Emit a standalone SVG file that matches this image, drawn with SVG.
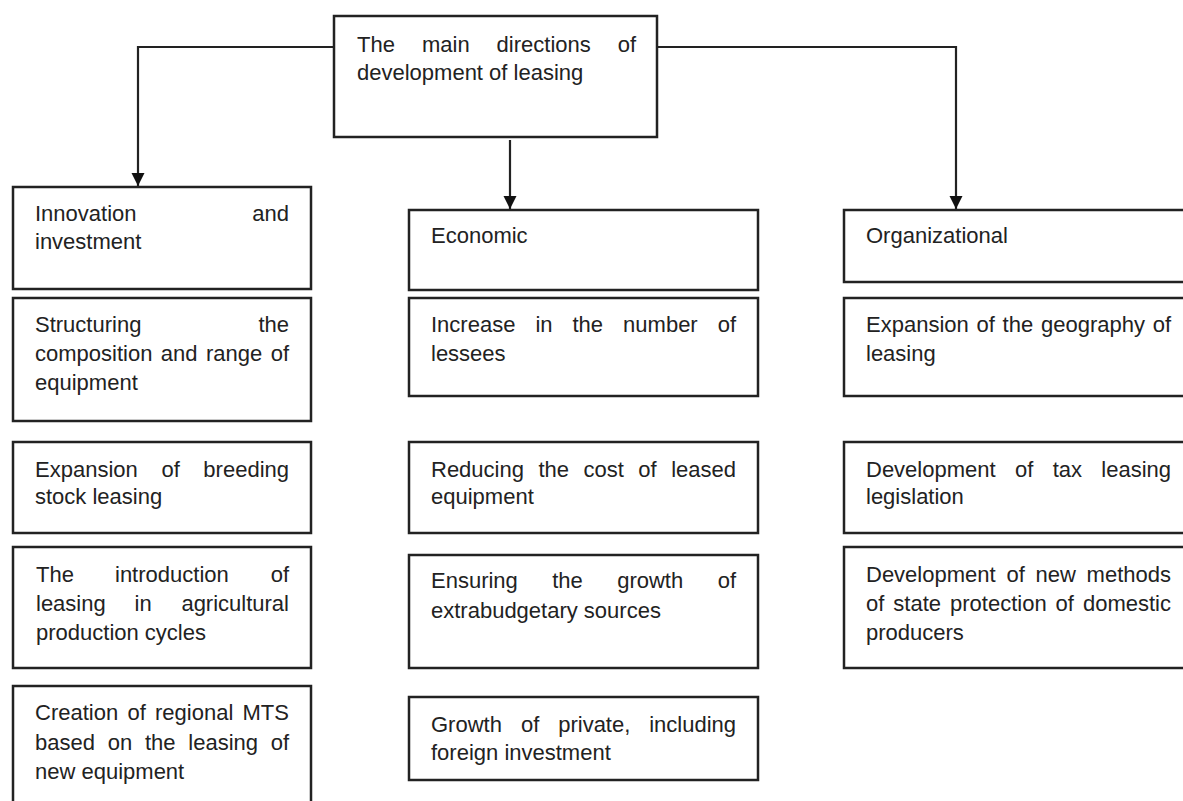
<svg xmlns="http://www.w3.org/2000/svg" width="1183" height="801" viewBox="0 0 1183 801">
<style>
.box{fill:#fff;stroke:#222;stroke-width:2.5}
.t{font-family:"Liberation Sans",Arial,sans-serif;font-size:22px;fill:#222}
.e{text-anchor:end}
.c{fill:none;stroke:#222;stroke-width:2.2}
</style>
<defs>
<marker id="arr" markerUnits="userSpaceOnUse" markerWidth="14" markerHeight="14" refX="13" refY="6.5" orient="auto">
<path d="M0,0 L13,6.5 L0,13 z" fill="#111"/>
</marker>
</defs>
<rect width="1183" height="801" fill="#fff"/>
<g id="connectors">
<path class="c" d="M334,47 H138 V186" marker-end="url(#arr)"/>
<path class="c" d="M510,140 V209" marker-end="url(#arr)"/>
<path class="c" d="M657,47 H956 V209" marker-end="url(#arr)"/>
</g>
<g id="root">
<rect class="box" x="334" y="16" width="323" height="121"/>
<text class="t" y="52"><tspan x="357">The</tspan><tspan x="422">main</tspan><tspan x="496.6">directions</tspan><tspan x="636" class="e">of</tspan></text>
<text class="t" x="357" y="80">development of leasing</text>
</g>
<g id="innovation">
<rect class="box" x="13" y="187" width="298" height="102"/>
<text class="t" y="221"><tspan x="35">Innovation</tspan><tspan x="289" class="e">and</tspan></text>
<text class="t" x="35" y="249">investment</text>
</g>
<g id="structuring">
<rect class="box" x="13" y="298" width="298" height="123"/>
<text class="t" y="332"><tspan x="35">Structuring</tspan><tspan x="289" class="e">the</tspan></text>
<text class="t" y="361"><tspan x="35">composition</tspan><tspan x="160.8">and</tspan><tspan x="205.9">range</tspan><tspan x="289" class="e">of</tspan></text>
<text class="t" x="35" y="390">equipment</text>
</g>
<g id="breeding">
<rect class="box" x="13" y="442" width="298" height="91"/>
<text class="t" y="477"><tspan x="35">Expansion</tspan><tspan x="161.4">of</tspan><tspan x="289" class="e">breeding</tspan></text>
<text class="t" x="35" y="504">stock leasing</text>
</g>
<g id="introduction">
<rect class="box" x="13" y="547" width="298" height="121"/>
<text class="t" y="582"><tspan x="36">The</tspan><tspan x="115">introduction</tspan><tspan x="289" class="e">of</tspan></text>
<text class="t" y="611"><tspan x="36">leasing</tspan><tspan x="134.5">in</tspan><tspan x="289" class="e">agricultural</tspan></text>
<text class="t" x="36" y="640">production cycles</text>
</g>
<g id="creation">
<rect class="box" x="13" y="686" width="298" height="130"/>
<text class="t" y="720"><tspan x="35">Creation</tspan><tspan x="127.4">of</tspan><tspan x="155">regional</tspan><tspan x="289" class="e">MTS</tspan></text>
<text class="t" y="750"><tspan x="35">based</tspan><tspan x="107.7">on</tspan><tspan x="144.9">the</tspan><tspan x="188.3">leasing</tspan><tspan x="289" class="e">of</tspan></text>
<text class="t" x="35" y="779">new equipment</text>
</g>
<g id="economic">
<rect class="box" x="409" y="210" width="349" height="80"/>
<text class="t" x="431" y="243">Economic</text>
</g>
<g id="increase">
<rect class="box" x="409" y="298" width="349" height="98"/>
<text class="t" y="332"><tspan x="431">Increase</tspan><tspan x="535.4">in</tspan><tspan x="572.5">the</tspan><tspan x="623.1">number</tspan><tspan x="736" class="e">of</tspan></text>
<text class="t" x="431" y="361">lessees</text>
</g>
<g id="reducing">
<rect class="box" x="409" y="442" width="349" height="91"/>
<text class="t" y="477"><tspan x="431">Reducing</tspan><tspan x="538.4">the</tspan><tspan x="583.5">cost</tspan><tspan x="638.3">of</tspan><tspan x="736" class="e">leased</tspan></text>
<text class="t" x="431" y="504">equipment</text>
</g>
<g id="ensuring">
<rect class="box" x="409" y="555" width="349" height="113"/>
<text class="t" y="588"><tspan x="431">Ensuring</tspan><tspan x="552.2">the</tspan><tspan x="617.2">growth</tspan><tspan x="736" class="e">of</tspan></text>
<text class="t" x="431" y="618">extrabudgetary sources</text>
</g>
<g id="growth">
<rect class="box" x="409" y="697" width="349" height="83"/>
<text class="t" y="732"><tspan x="431">Growth</tspan><tspan x="520.9">of</tspan><tspan x="558.2">private,</tspan><tspan x="736" class="e">including</tspan></text>
<text class="t" x="431" y="760">foreign investment</text>
</g>
<g id="organizational">
<rect class="box" x="844" y="210" width="350" height="72"/>
<text class="t" x="866" y="243">Organizational</text>
</g>
<g id="geography">
<rect class="box" x="844" y="298" width="350" height="98"/>
<text class="t" y="332"><tspan x="866">Expansion</tspan><tspan x="976.5">of</tspan><tspan x="1002.6">the</tspan><tspan x="1041">geography</tspan><tspan x="1171" class="e">of</tspan></text>
<text class="t" x="866" y="361">leasing</text>
</g>
<g id="tax">
<rect class="box" x="844" y="442" width="350" height="91"/>
<text class="t" y="477"><tspan x="866">Development</tspan><tspan x="1015">of</tspan><tspan x="1052.7">tax</tspan><tspan x="1171" class="e">leasing</tspan></text>
<text class="t" x="866" y="504">legislation</text>
</g>
<g id="methods">
<rect class="box" x="844" y="547" width="350" height="121"/>
<text class="t" y="582"><tspan x="866">Development</tspan><tspan x="1006.4">of</tspan><tspan x="1035.5">new</tspan><tspan x="1171" class="e">methods</tspan></text>
<text class="t" y="611"><tspan x="866">of</tspan><tspan x="893.3">state</tspan><tspan x="950">protection</tspan><tspan x="1055.6">of</tspan><tspan x="1171" class="e">domestic</tspan></text>
<text class="t" x="866" y="640">producers</text>
</g>
</svg>
